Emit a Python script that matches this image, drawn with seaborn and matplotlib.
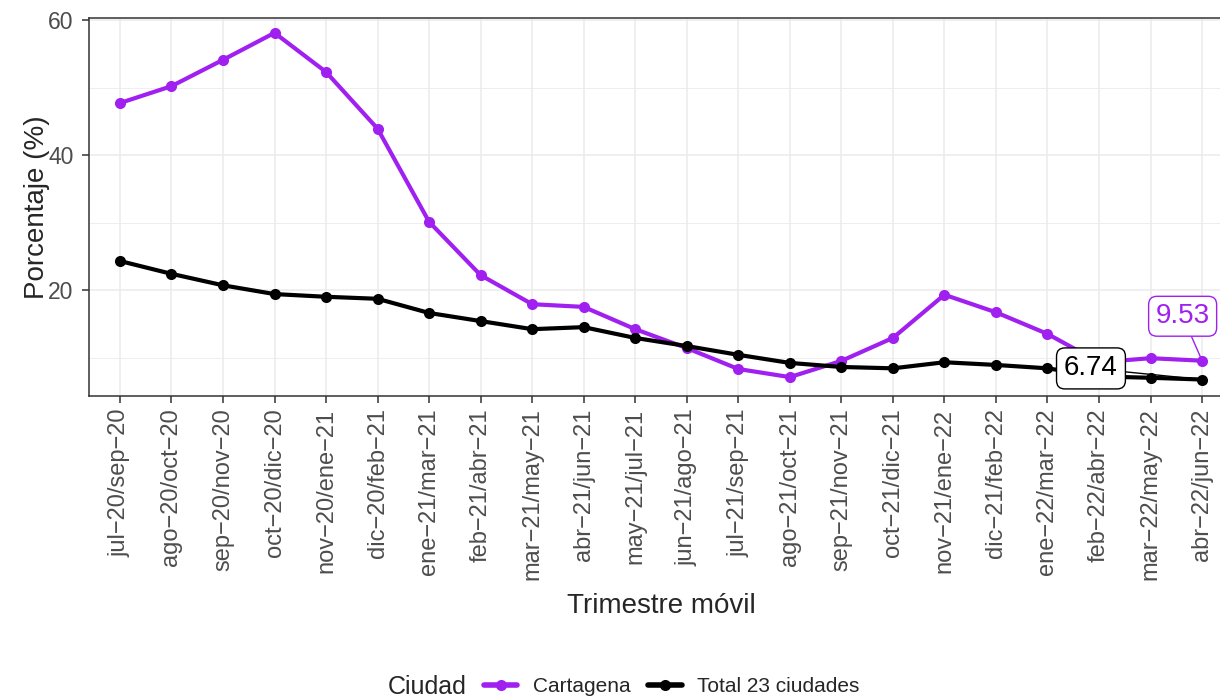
import numpy as np
import pandas as pd
import matplotlib
matplotlib.use("Agg")
import matplotlib.pyplot as plt
from matplotlib.ticker import MultipleLocator
import seaborn as sns

# ── DATA ──────────────────────────────────────────────────
trimestres = [
    "jul−20/sep−20", "ago−20/oct−20", "sep−20/nov−20", "oct−20/dic−20",
    "nov−20/ene−21", "dic−20/feb−21", "ene−21/mar−21", "feb−21/abr−21",
    "mar−21/may−21", "abr−21/jun−21", "may−21/jul−21", "jun−21/ago−21",
    "jul−21/sep−21", "ago−21/oct−21", "sep−21/nov−21", "oct−21/dic−21",
    "nov−21/ene−22", "dic−21/feb−22", "ene−22/mar−22", "feb−22/abr−22",
    "mar−22/may−22", "abr−22/jun−22",
]
cartagena = [47.7, 50.2, 54.1, 58.1, 52.3, 43.9, 30.1, 22.2, 17.9, 17.5, 14.2,
             11.4, 8.3, 7.1, 9.5, 12.9, 19.3, 16.7, 13.5, 9.3, 9.9, 9.53]
total_23 = [24.3, 22.4, 20.7, 19.4, 19.0, 18.7, 16.6, 15.4, 14.2, 14.5, 12.9,
            11.7, 10.4, 9.2, 8.6, 8.4, 9.3, 8.9, 8.4, 7.2, 7.0, 6.74]
ciudades = ["Cartagena", "Total 23 ciudades"]

COLORS = {"Cartagena": "#A020F0", "Total 23 ciudades": "#000000"}

df = pd.DataFrame({
    "idx": list(range(len(trimestres))) * 2,
    "valor": cartagena + total_23,
    "Ciudad": [ciudades[0]] * len(trimestres) + [ciudades[1]] * len(trimestres),
})

# ── STYLE ─────────────────────────────────────────────────
sns.set_style("white")
plt.rcParams["font.family"] = ["Liberation Sans", "DejaVu Sans"]

fig = plt.figure(figsize=(12.2, 7), dpi=100)
ax = fig.add_axes([89 / 1220, 1 - 396 / 700, (1233 - 89) / 1220, (396 - 18) / 700])

sns.lineplot(data=df, x="idx", y="valor", hue="Ciudad", hue_order=ciudades,
             palette=COLORS, marker="o", markersize=8, markeredgewidth=0,
             linewidth=3, ax=ax, legend=False)

ax.set_xlim(-0.6, len(trimestres) - 0.4)
ax.set_ylim(4.3, 60.3)
ax.set_xticks(range(len(trimestres)))
ax.set_xticklabels(trimestres, rotation=90)
ax.yaxis.set_major_locator(MultipleLocator(20))
ax.yaxis.set_minor_locator(MultipleLocator(10))

ax.grid(True, which="major", color="#EBEBEB", linewidth=1.1)
ax.grid(True, which="minor", axis="y", color="#EBEBEB", linewidth=0.6)
ax.set_axisbelow(True)
for s in ax.spines.values():
    s.set_color("#333333")
    s.set_linewidth(1.1)
ax.tick_params(axis="both", which="major", bottom=True, left=True, length=5,
               width=1.1, color="#333333", labelcolor="#4D4D4D")
ax.tick_params(axis="x", labelsize=17, pad=4)
ax.tick_params(axis="y", labelsize=16.5, pad=6)
ax.tick_params(axis="y", which="minor", length=0)

ax.set_xlabel("Trimestre móvil", fontsize=20, labelpad=9)
ax.set_ylabel("Porcentaje (%)", fontsize=20, labelpad=-1)

# ── LABELS ON LAST POINT ──────────────────────────────────
last = len(trimestres) - 1
ax.annotate(f"{total_23[-1]:.2f}", xy=(last, total_23[-1]), xytext=(-80, 8),
            textcoords="offset points", ha="center", va="center", fontsize=20,
            color="black",
            bbox=dict(boxstyle="round,pad=0.27,rounding_size=0.3", fc="white",
                      ec="black", lw=1),
            arrowprops=dict(arrowstyle="-", color="black", lw=1,
                            shrinkA=0, shrinkB=0))
ax.annotate(f"{cartagena[-1]:.2f}", xy=(last, cartagena[-1]), xytext=(-14, 32),
            textcoords="offset points", ha="center", va="center", fontsize=20,
            color=COLORS["Cartagena"],
            bbox=dict(boxstyle="round,pad=0.25,rounding_size=0.3", fc="white",
                      ec=COLORS["Cartagena"], lw=1),
            arrowprops=dict(arrowstyle="-", color=COLORS["Cartagena"], lw=1,
                            shrinkA=0, shrinkB=0))

# ── LEGEND ────────────────────────────────────────────────
handles = [plt.Line2D([], [], color=COLORS[c], lw=4, marker="o", markersize=8,
                      markeredgewidth=0) for c in ciudades]
fig.text(388 / 1220, 1 - 687 / 700, "Ciudad", fontsize=18, va="center", ha="left")
fig.legend(handles, ciudades, loc="center left",
           bbox_to_anchor=(484 / 1220, 1 - 687 / 700), ncol=2, frameon=False,
           fontsize=15, handlelength=1.6, handletextpad=0.75, columnspacing=0.85,
           borderpad=0, borderaxespad=0)

fig.savefig("out.png", dpi=100, facecolor="white")
